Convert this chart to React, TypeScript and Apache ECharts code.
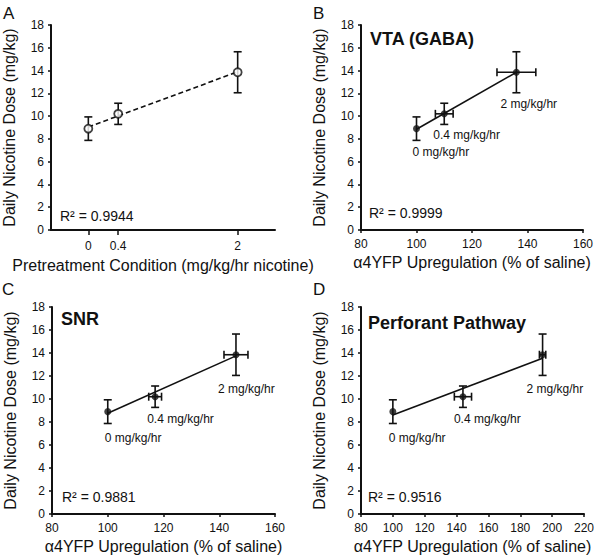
import React, { useEffect, useRef } from "react";
import * as echarts from "echarts";

const doseY = [8.9, 10.2, 13.85];
const doseYErr = [1.03, 0.93, 1.8];
const doseLabels = ["0 mg/kg/hr", "0.4 mg/kg/hr", "2 mg/kg/hr"];

const pretreatX = [0, 0.4, 2];
const pretreatTicks = [0, 0.4, 2];
const fitA = [[0, 9.05], [2, 13.89]];

const vtaX = [100, 110, 136];
const vtaXErr = [0, 3.2, 7];
const fitB = [[100, 8.85], [136, 13.85]];

const snrX = [100, 117, 146];
const snrXErr = [0, 2.3, 4.3];
const fitC = [[100, 8.76], [146, 13.75]];

const ppX = [100, 144, 194];
const ppXErr = [0, 5.4, 2];
const fitD = [[100, 8.6], [194, 13.55]];

const r2Texts = ["R² = 0.9944", "R² = 0.9999", "R² = 0.9881", "R² = 0.9516"];
const panelTitles = ["", "VTA (GABA)", "SNR", "Perforant Pathway"];
const panelLetters = ["A", "B", "C", "D"];

const FONT = "'Liberation Sans', Arial, Helvetica, sans-serif";
const INK = "#111";

function App() {
  const ref = useRef<HTMLDivElement>(null);
  useEffect(() => {
    document.body.style.margin = "0";
    const chart = echarts.init(ref.current!, null, { renderer: "svg" });

    const grids = [
      { left: 51, top: 25, width: 224, height: 205 },
      { left: 361, top: 25, width: 222, height: 205 },
      { left: 52, top: 307, width: 223, height: 207 },
      { left: 361, top: 307, width: 223, height: 207 },
    ];

    const axisCommon = {
      axisLine: { show: true, onZero: false, lineStyle: { color: INK, width: 2 } },
      axisTick: { show: true, length: 3, lineStyle: { color: INK, width: 1.5 } },
      axisLabel: { color: INK, fontSize: 12, fontFamily: FONT, margin: 8 },
      splitLine: { show: false },
      nameTextStyle: { color: INK, fontSize: 16, fontFamily: FONT },
    };

    const xName = "α4YFP Upregulation (% of saline)";
    const xAxes: any[] = [
      {
        ...axisCommon,
        type: "value",
        gridIndex: 0,
        min: -0.5,
        max: 2.5,
        axisTick: { ...axisCommon.axisTick, length: 5, customValues: pretreatTicks },
        axisLabel: { ...axisCommon.axisLabel, margin: 10, customValues: pretreatTicks },
        name: "Pretreatment Condition (mg/kg/hr nicotine)",
        nameLocation: "middle",
        nameGap: 27,
      },
      { ...axisCommon, type: "value", gridIndex: 1, min: 80, max: 160, interval: 20, name: xName, nameLocation: "middle", nameGap: 24 },
      { ...axisCommon, type: "value", gridIndex: 2, min: 80, max: 160, interval: 20, name: xName, nameLocation: "middle", nameGap: 24 },
      { ...axisCommon, type: "value", gridIndex: 3, min: 80, max: 220, interval: 20, name: xName, nameLocation: "middle", nameGap: 24 },
    ];
    const yAxes: any[] = [0, 1, 2, 3].map((i) => ({
      ...axisCommon,
      type: "value",
      gridIndex: i,
      min: 0,
      max: 18,
      interval: 2,
      axisLabel: { ...axisCommon.axisLabel, margin: 7 },
      name: "Daily Nicotine Dose (mg/kg)",
      nameLocation: "middle",
      nameGap: 34,
    }));

    const panels = [
      { xs: pretreatX, xerr: [0, 0, 0], fit: fitA, dashed: true, open: true, labels: false, offs: [] as number[][] },
      { xs: vtaX, xerr: vtaXErr, fit: fitB, dashed: false, open: false, labels: true, offs: [[-4, 23], [-11, 21], [-16, 32]] },
      { xs: snrX, xerr: snrXErr, fit: fitC, dashed: false, open: false, labels: true, offs: [[-3, 26], [-8, 22], [-18, 34]] },
      { xs: ppX, xerr: ppXErr, fit: fitD, dashed: false, open: false, labels: true, offs: [[-4, 26], [-9, 22], [-16, 34]] },
    ];

    const series: any[] = [];
    panels.forEach((p, i) => {
      series.push({
        type: "line",
        xAxisIndex: i,
        yAxisIndex: i,
        data: p.fit,
        symbol: "none",
        lineStyle: { color: INK, width: 1.6, type: p.dashed ? [5, 3] : "solid" },
        z: 2,
      });
      series.push({
        type: "custom",
        xAxisIndex: i,
        yAxisIndex: i,
        clip: false,
        z: 3,
        data: p.xs.map((x, k) => [x, doseY[k], p.xerr[k], doseYErr[k]]),
        renderItem: (params: any, api: any) => {
          const x = api.value(0), y = api.value(1), xe = api.value(2), ye = api.value(3);
          const c = api.coord([x, y]);
          const t = api.coord([x, y + ye]);
          const b = api.coord([x, y - ye]);
          const st = { stroke: INK, lineWidth: 1.6 };
          const ch: any[] = [
            { type: "line", shape: { x1: c[0], y1: t[1], x2: c[0], y2: b[1] }, style: st },
            { type: "line", shape: { x1: c[0] - 4, y1: t[1], x2: c[0] + 4, y2: t[1] }, style: st },
            { type: "line", shape: { x1: c[0] - 4, y1: b[1], x2: c[0] + 4, y2: b[1] }, style: st },
          ];
          if (xe > 0) {
            const l = api.coord([x - xe, y]);
            const r = api.coord([x + xe, y]);
            ch.push(
              { type: "line", shape: { x1: l[0], y1: c[1], x2: r[0], y2: c[1] }, style: st },
              { type: "line", shape: { x1: l[0], y1: c[1] - 4, x2: l[0], y2: c[1] + 4 }, style: st },
              { type: "line", shape: { x1: r[0], y1: c[1] - 4, x2: r[0], y2: c[1] + 4 }, style: st }
            );
          }
          if (p.labels) {
            const o = p.offs[params.dataIndex];
            ch.push({
              type: "text",
              x: c[0] + o[0],
              y: c[1] + o[1],
              style: {
                text: doseLabels[params.dataIndex],
                fill: INK,
                fontSize: 12,
                fontFamily: FONT,
                align: "left",
                verticalAlign: "middle",
              },
            });
          }
          return { type: "group", children: ch };
        },
      });
      series.push({
        type: "scatter",
        xAxisIndex: i,
        yAxisIndex: i,
        data: p.xs.map((x, k) => [x, doseY[k]]),
        symbol: "circle",
        symbolSize: p.open ? 8 : 7,
        itemStyle: p.open
          ? { color: "#fff", borderColor: INK, borderWidth: 1.8 }
          : { color: INK },
        z: 4,
      });
    });

    const letterPos = [[3, 13], [313, 13], [2, 289.5], [313, 289.5]];
    const titlePos = [[0, 0], [370, 38.5], [61, 319], [368, 322.5]];
    const r2Pos = [[60, 215.5], [369, 213], [62, 497], [368, 497]];
    const graphics: any[] = [];
    for (let i = 0; i < 4; i++) {
      graphics.push({
        type: "text",
        x: letterPos[i][0],
        y: letterPos[i][1],
        style: { text: panelLetters[i], fill: INK, fontSize: 17, fontFamily: FONT, align: "left", verticalAlign: "middle" },
      });
      if (panelTitles[i]) {
        graphics.push({
          type: "text",
          x: titlePos[i][0],
          y: titlePos[i][1],
          style: { text: panelTitles[i], fill: INK, fontSize: 18, fontWeight: "bold", fontFamily: FONT, align: "left", verticalAlign: "middle" },
        });
      }
      graphics.push({
        type: "text",
        x: r2Pos[i][0],
        y: r2Pos[i][1],
        style: { text: r2Texts[i], fill: INK, fontSize: 14, fontFamily: FONT, align: "left", verticalAlign: "middle" },
      });
    }

    chart.setOption({
      animation: false,
      backgroundColor: "#fff",
      grid: grids,
      xAxis: xAxes,
      yAxis: yAxes,
      series,
      graphic: graphics,
    });
    return () => chart.dispose();
  }, []);
  return <div ref={ref} style={{ width: 600, height: 555 }} />;
}

export default App;
